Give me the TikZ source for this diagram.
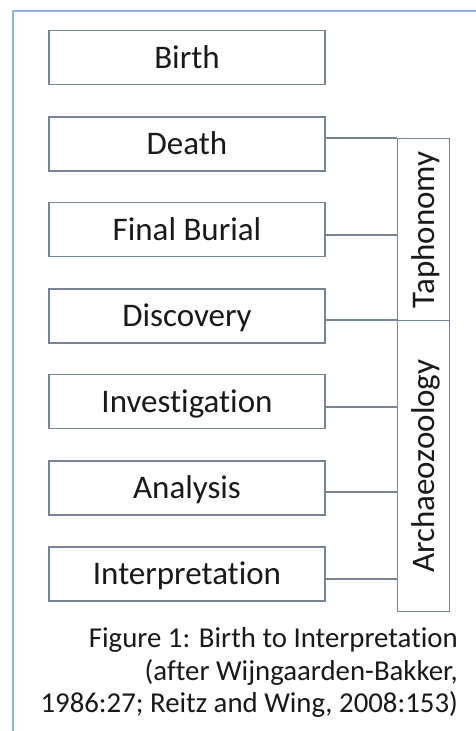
\documentclass[tikz,border=0pt]{standalone}
\usepackage{fontspec}
\setmainfont{Carlito}[Ligatures=NoCommon]
\definecolor{frameblue}{RGB}{141,179,226}
\definecolor{boxline}{RGB}{118,132,150}
\definecolor{txt}{RGB}{25,25,25}
\begin{document}
\begin{tikzpicture}[x=1pt,y=-1pt,
  stagebox/.style={draw=boxline,line width=1.3pt,fill=white,minimum width=276pt,minimum height=54pt,
    inner sep=0pt,text height=21pt,text depth=0pt,text=txt,font=\fontsize{33}{37}\selectfont},
  barbox/.style={draw=boxline,line width=1.3pt,minimum width=52pt,inner sep=0pt,anchor=north west},
  barlabel/.style={rotate=90,text=txt,font=\fontsize{33}{37}\selectfont,inner sep=0pt,text height=21pt,text depth=0pt},
  link/.style={draw=boxline,line width=1.3pt},
  captxt/.style={anchor=base east,text=txt,inner sep=0pt,font=\fontsize{28.8}{33}\selectfont}]
\useasboundingbox (0,0) rectangle (476,731);
\fill[white] (0,0) rectangle (476,731);
% frame
\draw[frameblue,line width=2pt] (13,731) -- (13,11) -- (476,11);
% stage boxes
\node[stagebox] (birth) at (187,57.5) {Birth};
\node[stagebox] (death) at (187,144) {Death};
\node[stagebox] (burial) at (187,229.5) {Final Burial};
\node[stagebox] (discovery) at (187,316) {Discovery};
\node[stagebox] (investigation) at (187,401.5) {Investigation};
\node[stagebox] (analysis) at (187,488) {Analysis};
\node[stagebox] (interpretation) at (187,574) {Interpretation};
% bar
\node[barbox,minimum height=182pt] (taph) at (397,138) {};
\node[barbox,minimum height=291pt] (arch) at (397,320) {};
\node[barlabel] (taphlabel) at (taph.center) {Taphonomy};
\node[barlabel] (archlabel) at (arch.center) {Archaeozoology};
% connector levels
\coordinate (l1) at (0,138);
\coordinate (l2) at (0,235);
\coordinate (l3) at (0,320);
\coordinate (l4) at (0,407);
\coordinate (l5) at (0,492);
\coordinate (l6) at (0,579);
\draw[link] (death.east |- l1) -- (taph.west |- l1);
\draw[link] (burial.east |- l2) -- (taph.west |- l2);
\draw[link] (discovery.east |- l3) -- (arch.west |- l3);
\draw[link] (investigation.east |- l4) -- (arch.west |- l4);
\draw[link] (analysis.east |- l5) -- (arch.west |- l5);
\draw[link] (interpretation.east |- l6) -- (arch.west |- l6);
% caption
\node[captxt] (cap1) at (458,647) {Figure 1: Birth to Interpretation};
\node[captxt] (cap2) at (458,680) {(after Wijngaarden-Bakker,};
\node[captxt] (cap3) at (458,712) {1986:27; Reitz and Wing, 2008:153)};
\end{tikzpicture}
\end{document}
